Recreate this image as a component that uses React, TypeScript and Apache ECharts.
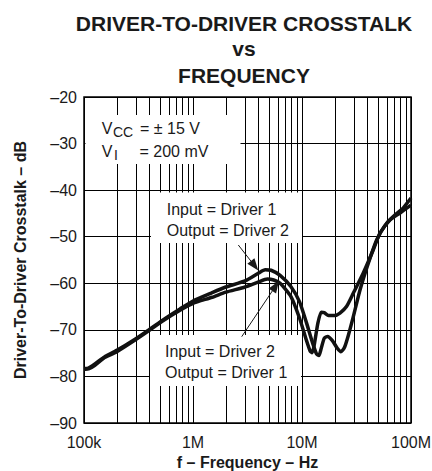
import React, { useEffect, useRef } from "react";
import * as echarts from "echarts";

// ---- data ----
const xTickLabels = ["100k", "1M", "10M", "100M"];
const yTicks = [-90, -80, -70, -60, -50, -40, -30, -20];

// frequency (Hz) / crosstalk (dB): Input = Driver 1, Output = Driver 2
const d1Freq = [1e5, 1.1e5, 1.26e5, 1.56e5, 2e5, 2.94e5, 4.04e5, 5.35e5, 7.6e5, 1e6, 1.5e6, 2e6, 3e6, 4e6, 4.6e6, 5.2e6, 6.3e6, 7.9e6, 9.5e6, 1.1e7, 1.25e7, 1.36e7, 1.43e7, 1.5e7, 1.6e7, 1.72e7, 1.9e7, 2.1e7, 2.28e7, 2.45e7, 2.66e7, 2.96e7, 3.41e7, 4.06e7, 4.84e7, 5.98e7, 7.39e7, 8.5e7, 1e8];
const d1Db = [-78.3, -78.2, -77.3, -75.7, -74.4, -72.0, -69.8, -67.8, -65.5, -63.8, -62.0, -60.8, -59.5, -57.8, -57.1, -57.2, -58.3, -60.7, -64.0, -68.5, -72.8, -75.2, -75.5, -74.0, -71.8, -71.4, -72.3, -73.9, -74.7, -73.8, -71.2, -67.1, -61.4, -55.7, -50.7, -47.1, -45.0, -43.8, -41.7];

// Input = Driver 2, Output = Driver 1
const d2Freq = [1e5, 1.1e5, 1.26e5, 1.56e5, 2e5, 2.94e5, 4.04e5, 5.35e5, 7.6e5, 1e6, 1.5e6, 2e6, 3e6, 4e6, 4.8e6, 5.5e6, 6.3e6, 7.9e6, 9.5e6, 1.1e7, 1.19e7, 1.24e7, 1.3e7, 1.4e7, 1.5e7, 1.6e7, 1.75e7, 2e7, 2.23e7, 2.56e7, 2.96e7, 3.65e7, 4.51e7, 5.2e7, 6.41e7, 7.93e7, 1e8];
const d2Db = [-78.5, -78.4, -77.6, -75.9, -74.7, -72.2, -70.0, -68.0, -65.8, -64.3, -63.0, -61.9, -60.8, -59.7, -59.1, -59.3, -60.0, -62.8, -67.5, -72.3, -74.6, -74.9, -73.0, -68.5, -66.2, -66.3, -66.9, -66.9, -66.4, -65.0, -62.1, -57.8, -52.8, -49.2, -46.4, -44.9, -43.2];

// minor log grid lines
const minorGridFreqs = [
  2e5, 3e5, 4e5, 5e5, 6e5, 7e5, 8e5, 9e5,
  2e6, 3e6, 4e6, 5e6, 6e6, 7e6, 8e6, 9e6,
  2e7, 3e7, 4e7, 5e7, 6e7, 7e7, 8e7, 9e7,
];

const FONT = '"Liberation Sans", Arial, Helvetica, sans-serif';
const INK = "#1a1a1a";

function txt(text: string, x: number, y: number, size: number, bold = false, align = "left") {
  return {
    type: "text",
    z: 4,
    style: {
      text,
      x,
      y,
      fill: INK,
      font: `${bold ? "bold " : ""}${size}px ${FONT}`,
      align,
      textAlign: align,
      verticalAlign: "middle",
      textVerticalAlign: "middle",
    },
  };
}

function box(x: number, y: number, w: number, h: number) {
  return { type: "rect", z: 1, shape: { x, y, width: w, height: h }, style: { fill: "#fff" } };
}

function arrow(x1: number, y1: number, x2: number, y2: number) {
  const dx = x2 - x1, dy = y2 - y1;
  const len = Math.sqrt(dx * dx + dy * dy);
  const ux = dx / len, uy = dy / len;
  const hl = 12, hw = 4.5;
  const bx = x2 - ux * hl, by = y2 - uy * hl;
  return [
    { type: "line", z: 4, shape: { x1, y1, x2: bx, y2: by }, style: { stroke: INK, lineWidth: 1 } },
    {
      type: "polygon",
      z: 4,
      shape: { points: [[x2, y2], [bx - uy * hw, by + ux * hw], [bx + uy * hw, by - ux * hw]] },
      style: { fill: INK },
    },
  ];
}

export default function App() {
  const ref = useRef<HTMLDivElement>(null);
  useEffect(() => {
    if (!ref.current) return;
    const chart = echarts.init(ref.current, undefined, { renderer: "svg" });
    const d1 = d1Freq.map((f, i) => [f, d1Db[i]]);
    const d2 = d2Freq.map((f, i) => [f, d2Db[i]]);
    const option: any = {
      animation: false,
      grid: {
        left: 84, right: 21, top: 97, bottom: 48,
        containLabel: false, outerBoundsMode: "none",
        show: true, borderColor: "#000", borderWidth: 1.5, backgroundColor: "transparent",
      },
      xAxis: {
        type: "log", logBase: 10, min: 1e5, max: 1e8,
        axisLine: { show: false }, axisTick: { show: false },
        splitLine: { show: true, lineStyle: { color: "#000", width: 1 } },
        axisLabel: {
          fontFamily: FONT, fontSize: 16, color: INK, margin: 11,
          formatter: (v: number) => xTickLabels[Math.round(Math.log10(v)) - 5] ?? "",
        },
        name: "f – Frequency – Hz", nameLocation: "middle", nameGap: 30,
        nameTextStyle: { fontFamily: FONT, fontSize: 16, fontWeight: "bold", color: INK },
      },
      yAxis: {
        type: "value", min: yTicks[0], max: yTicks[yTicks.length - 1], interval: 10,
        axisLine: { show: false }, axisTick: { show: false },
        splitLine: { show: true, lineStyle: { color: "#000", width: 1 } },
        axisLabel: {
          fontFamily: FONT, fontSize: 16, color: INK, margin: 7,
          formatter: (v: number) => String(v).replace("-", "–"),
        },
        name: "Driver-To-Driver Crosstalk – dB", nameLocation: "middle", nameGap: 56,
        nameTextStyle: { fontFamily: FONT, fontSize: 16, fontWeight: "bold", color: INK },
      },
      series: [
        {
          type: "line", z: 0, data: [], silent: true,
          markLine: {
            z: 0, silent: true, symbol: ["none", "none"], label: { show: false },
            lineStyle: { color: "#000", width: 1, type: "solid" },
            emphasis: { disabled: true },
            data: minorGridFreqs.map((f) => ({ xAxis: f })),
          },
        },
        {
          name: "Input = Driver 1, Output = Driver 2", type: "line", z: 3, data: d1,
          showSymbol: false, smooth: 0.2, lineStyle: { color: "#111", width: 3.5 },
        },
        {
          name: "Input = Driver 2, Output = Driver 1", type: "line", z: 3, data: d2,
          showSymbol: false, smooth: 0.2, lineStyle: { color: "#111", width: 3.5 },
        },
      ],
      graphic: [
        box(85.5, 115, 155, 49),
        box(151, 192.5, 151, 50.5),
        box(150, 335, 151, 51),
        txt("DRIVER-TO-DRIVER CROSSTALK", 244, 23.5, 21, true, "center"),
        txt("vs", 244, 48, 21, true, "center"),
        txt("FREQUENCY", 244, 75.7, 21, true, "center"),
        txt("V", 101.7, 128.5, 16),
        txt("CC", 113, 132, 14),
        txt("= ± 15 V", 140, 128.5, 16),
        txt("V", 101.7, 151, 16),
        txt("I", 114, 154.5, 14),
        txt("= 200 mV", 139.5, 151, 16),
        txt("Input = Driver 1", 166.7, 209, 16),
        txt("Output = Driver 2", 166.7, 230, 16),
        txt("Input = Driver 2", 165, 351, 16),
        txt("Output = Driver 1", 165, 372, 16),
        ...arrow(238.3, 245, 258.3, 270.5),
        ...arrow(241.7, 336.7, 279, 281),
      ],
    };
    chart.setOption(option);
    return () => chart.dispose();
  }, []);
  return (
    <div
      ref={ref}
      style={{ position: "fixed", left: 0, top: 0, width: 432, height: 471, background: "#fff" }}
    />
  );
}
